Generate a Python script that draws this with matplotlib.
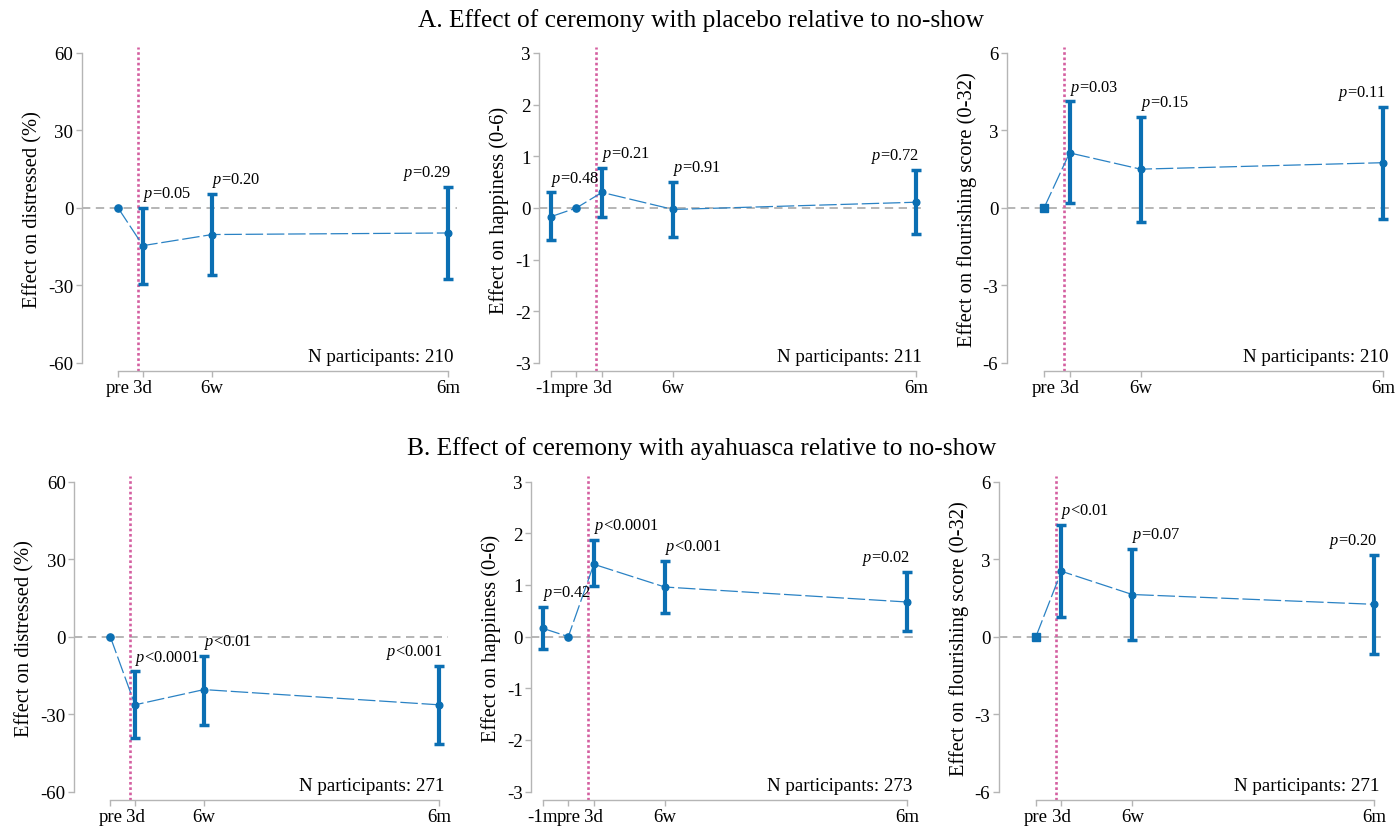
import numpy as np
import matplotlib
matplotlib.use("Agg")
import matplotlib.pyplot as plt

plt.rcParams.update({
    "font.family": "Liberation Serif",
    "mathtext.fontset": "custom",
    "mathtext.it": "Liberation Serif:italic",
    "mathtext.rm": "Liberation Serif",
    "axes.unicode_minus": False,
})

# ---------------- data ----------------
time_days = {"-1m": -25, "pre": -11, "3d": 3, "6w": 42, "6m": 175}
times_std = ["pre", "3d", "6w", "6m"]
times_hap = ["-1m", "pre", "3d", "6w", "6m"]

row_titles = ["A. Effect of ceremony with placebo relative to no-show",
              "B. Effect of ceremony with ayahuasca relative to no-show"]

ylabels = ["Effect on distressed (%)", "Effect on happiness (0-6)",
           "Effect on flourishing score (0-32)"]
yticks_distress = [-60, -30, 0, 30, 60]
yticks_happy = [-3, -2, -1, 0, 1, 2, 3]
yticks_flour = [-6, -3, 0, 3, 6]

# Panel A (placebo)
A_distress_est = [0.0, -14.6, -10.3, -9.7]
A_distress_lo = [np.nan, -29.4, -25.9, -27.5]
A_distress_hi = [np.nan, 0.0, 5.4, 8.1]
A_distress_p = ["", "=0.05", "=0.20", "=0.29"]
A_distress_n = 210

A_happy_est = [-0.17, 0.0, 0.30, -0.03, 0.11]
A_happy_lo = [-0.63, np.nan, -0.17, -0.57, -0.50]
A_happy_hi = [0.30, np.nan, 0.78, 0.51, 0.74]
A_happy_p = ["=0.48", "", "=0.21", "=0.91", "=0.72"]
A_happy_n = 211

A_flour_est = [0.0, 2.13, 1.50, 1.75]
A_flour_lo = [np.nan, 0.18, -0.53, -0.43]
A_flour_hi = [np.nan, 4.12, 3.52, 3.92]
A_flour_p = ["", "=0.03", "=0.15", "=0.11"]
A_flour_n = 210

# Panel B (ayahuasca)
B_distress_est = [0.0, -26.4, -20.5, -26.4]
B_distress_lo = [np.nan, -39.3, -34.1, -41.5]
B_distress_hi = [np.nan, -13.5, -7.4, -11.5]
B_distress_p = ["", "<0.0001", "<0.01", "<0.001"]
B_distress_n = 271

B_happy_est = [0.16, 0.0, 1.40, 0.96, 0.67]
B_happy_lo = [-0.24, np.nan, 0.97, 0.46, 0.11]
B_happy_hi = [0.57, np.nan, 1.87, 1.46, 1.25]
B_happy_p = ["=0.42", "", "<0.0001", "<0.001", "=0.02"]
B_happy_n = 273

B_flour_est = [0.0, 2.53, 1.63, 1.25]
B_flour_lo = [np.nan, 0.74, -0.15, -0.67]
B_flour_hi = [np.nan, 4.32, 3.41, 3.17]
B_flour_p = ["", "<0.01", "=0.07", "=0.20"]
B_flour_n = 271

panels = [
    # row, col, times, est, lo, hi, p, n, yticks, ylabel index
    (0, 0, times_std, A_distress_est, A_distress_lo, A_distress_hi, A_distress_p, A_distress_n, yticks_distress, 0),
    (0, 1, times_hap, A_happy_est, A_happy_lo, A_happy_hi, A_happy_p, A_happy_n, yticks_happy, 1),
    (0, 2, times_std, A_flour_est, A_flour_lo, A_flour_hi, A_flour_p, A_flour_n, yticks_flour, 2),
    (1, 0, times_std, B_distress_est, B_distress_lo, B_distress_hi, B_distress_p, B_distress_n, yticks_distress, 0),
    (1, 1, times_hap, B_happy_est, B_happy_lo, B_happy_hi, B_happy_p, B_happy_n, yticks_happy, 1),
    (1, 2, times_std, B_flour_est, B_flour_lo, B_flour_hi, B_flour_p, B_flour_n, yticks_flour, 2),
]

# ---------------- layout ----------------
W, H = 1399, 829
fig = plt.figure(figsize=(W / 100, H / 100), dpi=100)

# pixel boxes (left, right, top, bottom)
boxes = {
    (0, 0): (81.7, 457, 48, 372),
    (0, 1): (539, 925, 48, 372),
    (0, 2): (1006.7, 1392, 48, 372),
    (1, 0): (74, 448, 476.7, 800.7),
    (1, 1): (531, 916, 476.7, 800.7),
    (1, 2): (998.7, 1383, 476.7, 800.7),
}

BLUE = "#0b6fb3"
LINE_BLUE = "#2a82c4"
PINK = "#d45fa0"
GRAY = "#a9a9a9"
SPINE = "#b5b5b5"

for (row, col, times, est, lo, hi, pv, n, yt, yl) in panels:
    l, r, t, b = boxes[(row, col)]
    ax = fig.add_axes([l / W, 1 - b / H, (r - l) / W, (b - t) / H])
    x = np.array([time_days[k] for k in times], dtype=float)
    est = np.array(est, dtype=float)
    lo = np.array(lo, dtype=float)
    hi = np.array(hi, dtype=float)
    ymax = max(yt)
    ax.set_xlim(-31.5, 180)
    ax.set_ylim(-1.052 * ymax, 1.038 * ymax)

    ax.axhline(0, color=GRAY, lw=1.2, ls=(0, (5, 3.3)), zorder=1)
    ax.axvline(0, color=PINK, lw=1.9, ls=(0, (1, 1.0)), zorder=2)
    ax.plot(x, est, color=LINE_BLUE, lw=0.9, ls=(0, (14, 3)), zorder=3)
    m = ~np.isnan(lo)
    ax.errorbar(x[m], est[m], yerr=[est[m] - lo[m], hi[m] - est[m]], fmt="none",
                ecolor=BLUE, elinewidth=3, capsize=3.8, capthick=2.5, zorder=4)
    pre_marker = "s" if yl == 2 else "o"
    for xi, ei, mi in zip(x, est, m):
        ax.plot([xi], [ei], marker="o" if mi else pre_marker, ms=4.8 if mi else 5.2,
                color=BLUE, zorder=5, ls="none")

    last = len(x) - 1
    for i, (xi, hii, p) in enumerate(zip(x, hi, pv)):
        if not p:
            continue
        if i == last:
            ax.annotate(r"$p$" + p, xy=(xi, hii), xytext=(2.5, 3.5), textcoords="offset points",
                        ha="right", va="bottom", fontsize=11.8)
        else:
            ax.annotate(r"$p$" + p, xy=(xi, hii), xytext=(0, 3.5), textcoords="offset points",
                        ha="left", va="bottom", fontsize=11.8)

    ax.annotate(f"N participants: {n}", xy=(1, 0), xycoords="axes fraction",
                xytext=(-2.5, 4), textcoords="offset points", ha="right", va="bottom",
                fontsize=13.7)

    ax.set_xticks(x)
    ax.set_xticklabels(times)
    ax.set_yticks(yt)
    ax.set_yticklabels([str(v) for v in yt])
    ax.set_ylabel(ylabels[yl], fontsize=14.8)
    ax.tick_params(axis="both", colors=SPINE, labelcolor="black", labelsize=13.6,
                   length=4, width=1, pad=2)
    for s in ["top", "right"]:
        ax.spines[s].set_visible(False)
    for s in ["left", "bottom"]:
        ax.spines[s].set_color(SPINE)
        ax.spines[s].set_linewidth(1)
    ax.spines["left"].set_bounds(min(yt), max(yt))
    ax.spines["bottom"].set_bounds(x[0], x[-1])
    ax.patch.set_visible(False)

fig.text(701.5 / W, 1 - 27 / H, row_titles[0], ha="center", va="baseline", fontsize=18.3)
fig.text(701.5 / W, 1 - 455 / H, row_titles[1], ha="center", va="baseline", fontsize=18.3)

fig.savefig("out.png", dpi=100)
